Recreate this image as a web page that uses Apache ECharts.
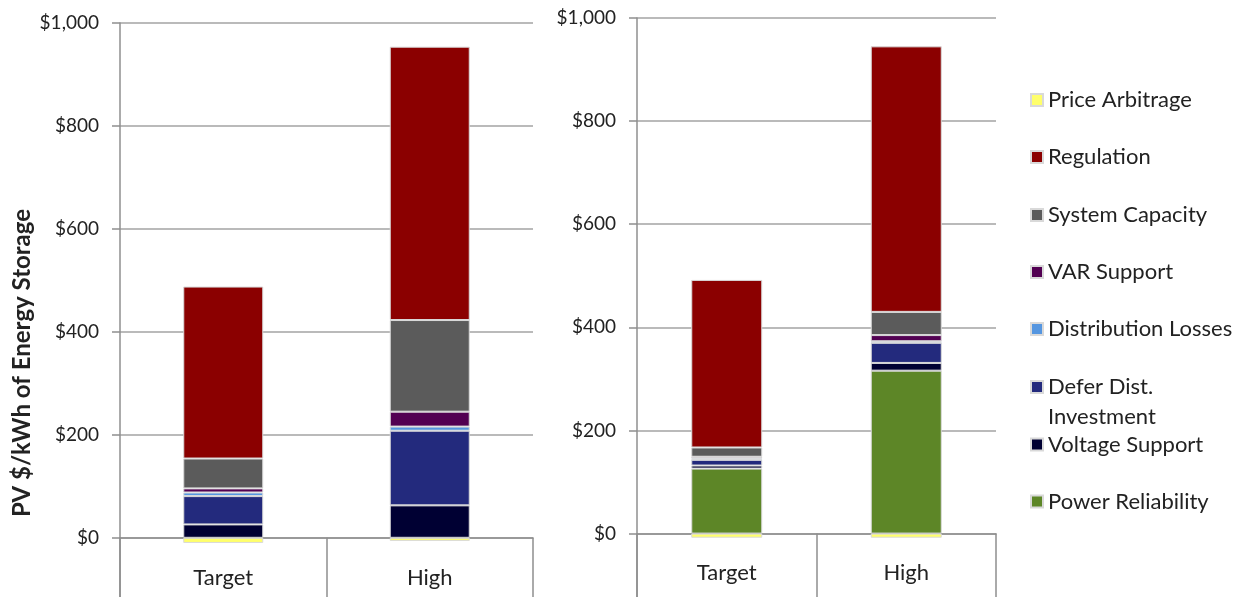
<!DOCTYPE html>
<html>
<head>
<meta charset="utf-8">
<script src="https://cdn.jsdelivr.net/npm/echarts@6/dist/echarts.min.js"></script>
<style>
html,body{margin:0;padding:0;background:#fff;}
#chart{width:1239px;height:597px;}
</style>
</head>
<body>
<div id="chart"></div>
<script>
// ---- data ----
const categories = ['Target', 'High'];
const yTickValues = [0, 200, 400, 600, 800, 1000];

// left chart (bottom to top)
const leftVoltageSupport = [26, 63];
const leftDeferDist = [55, 145];
const leftDistLosses = [7, 8];
const leftVarSupport = [8, 29];
const leftSystemCapacity = [58, 178];
const leftRegulation = [334, 531];
const leftPriceArbitrage = [-10, -6];

// right chart (bottom to top)
const rightPowerReliability = [126, 316];
const rightVoltageSupport = [6, 15];
const rightDeferDist = [11, 39];
const rightDistLosses = [3, 3];
const rightVarSupport = [3, 12];
const rightSystemCapacity = [18, 45];
const rightRegulation = [325, 515];
const rightPriceArbitrage = [-8, -8];

const NAMES = {
  pa: 'Price Arbitrage',
  reg: 'Regulation',
  sc: 'System Capacity',
  var: 'VAR Support',
  dl: 'Distribution Losses',
  defer: 'Defer Dist. Investment',
  vs: 'Voltage Support',
  pr: 'Power Reliability'
};
const COLORS = {
  pa: '#ffff6b',
  reg: '#8b0000',
  sc: '#5b5b5b',
  var: '#520052',
  dl: '#5596e0',
  defer: '#232a7d',
  vs: '#000033',
  pr: '#5d8627'
};

const FONT = 'Lato';
const TEXT = '#222';
const AXIS = '#8f8f8f';

function bar(key, data, idx, width) {
  return {
    type: 'bar',
    name: NAMES[key],
    xAxisIndex: idx,
    yAxisIndex: idx,
    stack: 'S' + idx,
    data: data,
    barWidth: width,
    itemStyle: { color: COLORS[key], borderColor: '#d9d9d9', borderWidth: 1 },
    emphasis: { disabled: true }
  };
}

function yAxis(idx, min) {
  return {
    type: 'value',
    gridIndex: idx,
    min: min,
    max: 1000,
    axisLine: { show: true, lineStyle: { color: AXIS, width: 1.5 } },
    axisTick: { show: true, length: 8, customValues: yTickValues, lineStyle: { color: AXIS, width: 1.5 } },
    axisLabel: {
      customValues: yTickValues,
      formatter: v => '$' + Number(v).toLocaleString('en-US'),
      fontSize: 19, fontFamily: FONT, color: TEXT, margin: 21
    },
    splitLine: { show: true, lineStyle: { color: '#a3a3a3', width: 1.5 } }
  };
}

function xAxis(idx, labelMargin) {
  return {
    type: 'category',
    gridIndex: idx,
    data: categories,
    axisLine: { show: true, onZero: true, lineStyle: { color: AXIS, width: 1.5 } },
    axisTick: { show: true, length: 64, lineStyle: { color: AXIS, width: 1.5 } },
    axisLabel: { fontSize: 22, fontFamily: FONT, color: TEXT, margin: labelMargin },
    splitLine: { show: false }
  };
}

const legendOrder = [
  ['pa', 100], ['reg', 157], ['sc', 215], ['var', 272],
  ['dl', 329], ['defer', 387], ['vs', 444.5], ['pr', 501.5]
];
const legends = legendOrder.map(([key, cy]) => {
  const isDefer = key === 'defer';
  const lh = isDefer ? 30 : 26;
  const h = isDefer ? lh * 3 : lh;
  return {
    data: [NAMES[key]],
    orient: 'vertical',
    left: 1030,
    top: cy - h / 2,
    padding: 0,
    itemWidth: 12,
    itemHeight: 12,
    icon: 'rect',
    selectedMode: false,
    formatter: isDefer ? () => ' \nDefer Dist.\nInvestment' : undefined,
    textStyle: { fontSize: 22, fontFamily: FONT, color: TEXT, lineHeight: lh }
  };
});

const option = {
  animation: false,
  backgroundColor: '#fff',
  grid: [
    { left: 120, top: 23, width: 413, bottom: 0, containLabel: false, outerBoundsMode: 'none' },
    { left: 637, top: 18, width: 359, bottom: 0, containLabel: false, outerBoundsMode: 'none' }
  ],
  xAxis: [xAxis(0, -30), xAxis(1, -35)],
  yAxis: [yAxis(0, -115), yAxis(1, -123)],
  legend: legends,
  graphic: [{
    type: 'text',
    x: 22, y: 363,
    rotation: Math.PI / 2,
    style: {
      text: 'PV $/kWh of Energy Storage',
      font: 'bold 24px Lato',
      fill: TEXT,
      align: 'center',
      verticalAlign: 'middle'
    }
  }],
  series: [
    bar('vs', leftVoltageSupport, 0, 80),
    bar('defer', leftDeferDist, 0, 80),
    bar('dl', leftDistLosses, 0, 80),
    bar('var', leftVarSupport, 0, 80),
    bar('sc', leftSystemCapacity, 0, 80),
    bar('reg', leftRegulation, 0, 80),
    bar('pa', leftPriceArbitrage, 0, 80),

    bar('pr', rightPowerReliability, 1, 71),
    bar('vs', rightVoltageSupport, 1, 71),
    bar('defer', rightDeferDist, 1, 71),
    bar('dl', rightDistLosses, 1, 71),
    bar('var', rightVarSupport, 1, 71),
    bar('sc', rightSystemCapacity, 1, 71),
    bar('reg', rightRegulation, 1, 71),
    bar('pa', rightPriceArbitrage, 1, 71)
  ]
};

const chart = echarts.init(document.getElementById('chart'), null, { renderer: 'canvas' });
chart.setOption(option);
</script>
</body>
</html>
